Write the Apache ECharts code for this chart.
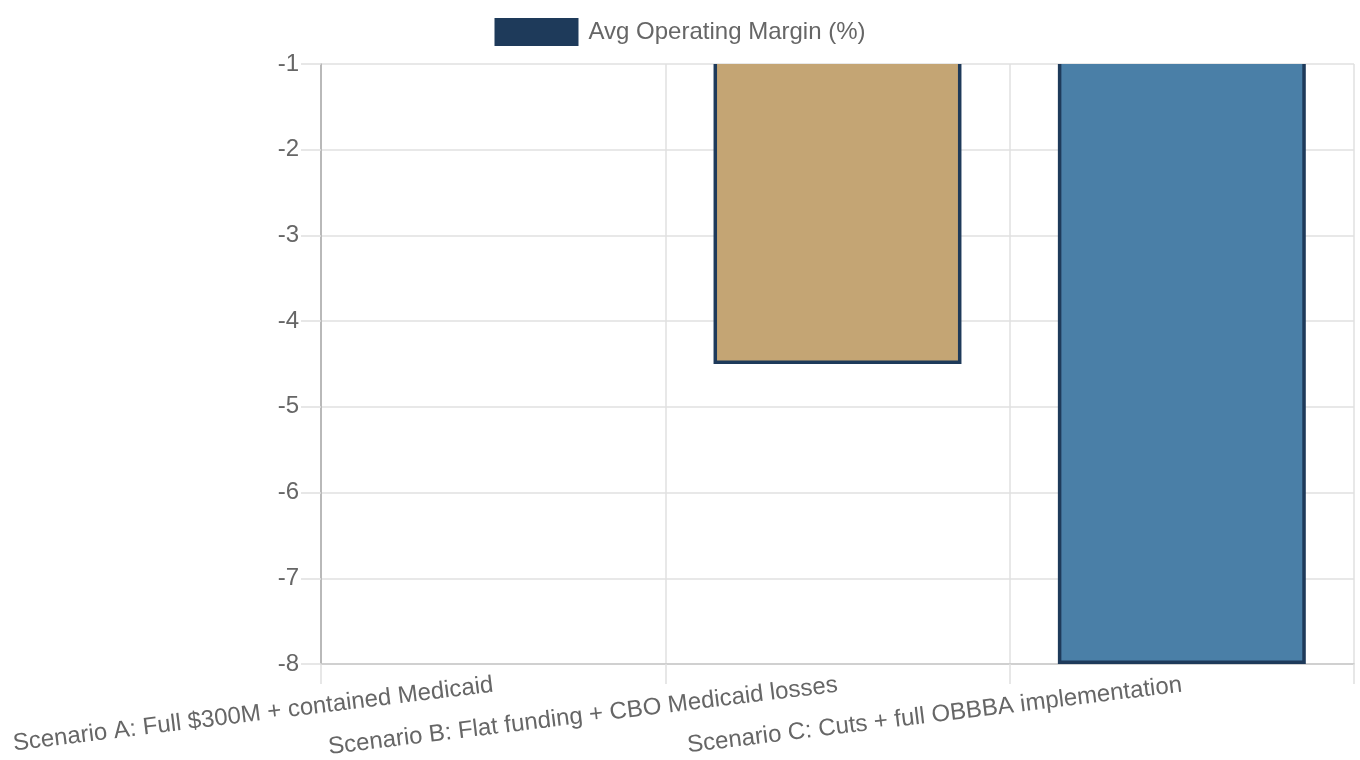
<!DOCTYPE html>
<html>
<head>
<meta charset="utf-8">
<script src="https://cdn.jsdelivr.net/npm/echarts@6/dist/echarts.min.js"></script>
<style>html,body{margin:0;padding:0;background:#fff}#c{width:1360px;height:760px}</style>
</head>
<body>
<div id="c"></div>
<script>
const categories = [
  'Scenario A: Full $300M + contained Medicaid',
  'Scenario B: Flat funding + CBO Medicaid losses',
  'Scenario C: Cuts + full OBBBA implementation'
];
const marginValues = [-1, -4.5, -8];
const barColors = ['#1e3a5a', '#c4a574', '#4a7fa7'];
const seriesName = 'Avg Operating Margin (%)';
const yTicks = { min: -8, max: -1, interval: 1 };

const FONT = '"Liberation Sans", Arial, Helvetica, sans-serif';
const BORDER = '#1e3a5a';
const BW = 3.5;

const chart = echarts.init(document.getElementById('c'));
chart.setOption({
  animation: false,
  textStyle: { fontFamily: FONT },
  legend: {
    top: 13, left: 'center',
    itemWidth: 84, itemHeight: 28,
    textStyle: { color: '#666', fontSize: 24, fontFamily: FONT, padding: [2, 0, 0, 5] },
    data: [{ name: seriesName, icon: 'rect', itemStyle: { color: BORDER } }]
  },
  grid: { left: 321, right: 6, top: 64, bottom: 96, containLabel: false },
  xAxis: {
    type: 'category', data: categories, boundaryGap: true,
    axisLine: { show: true, lineStyle: { color: '#c8c8c8', width: 1.5 } },
    axisTick: { show: true, length: 20, lineStyle: { color: '#e0e0e0', width: 1.5 } },
    splitLine: { show: true, lineStyle: { color: '#e0e0e0', width: 1.5 } },
    axisLabel: { rotate: 7, color: '#666', fontSize: 24, fontFamily: FONT, margin: 21, interval: 0 }
  },
  yAxis: {
    type: 'value', min: yTicks.min, max: yTicks.max, interval: yTicks.interval,
    axisLine: { show: true, lineStyle: { color: '#aaa', width: 1.5 } },
    axisTick: { show: true, length: 20, lineStyle: { color: '#e0e0e0', width: 1.5 } },
    splitLine: { show: true, lineStyle: { color: '#e0e0e0', width: 1.5 } },
    axisLabel: { color: '#666', fontSize: 24, fontFamily: FONT, margin: 22 }
  },
  series: [{
    type: 'custom',
    name: seriesName,
    itemStyle: { color: BORDER },
    encode: { x: 0, y: 1 },
    data: marginValues.map((v, i) => [i, v]),
    renderItem: function (params, api) {
      const idx = api.value(0), val = api.value(1);
      const base = api.coord([idx, 0]);
      const end = api.coord([idx, val]);
      const w = api.size([1, 0])[0] * 0.72;
      const cs = params.coordSys;
      const x0 = end[0] - w / 2;
      const top = Math.min(base[1], end[1]);
      const bot = Math.max(base[1], end[1]);
      const cy0 = cs.y, cy1 = cs.y + cs.height;
      const clip = (a, b) => [Math.max(a, cy0), Math.min(b, cy1)];
      const children = [];
      const [oy0, oy1] = clip(top, bot);
      if (oy1 - oy0 > 0) {
        children.push({ type: 'rect', shape: { x: x0, y: oy0, width: w, height: oy1 - oy0 }, style: { fill: BORDER } });
        let iy0, iy1;
        if (val < 0) { iy0 = top; iy1 = bot - BW; } else { iy0 = top + BW; iy1 = bot; }
        const [cy0b, cy1b] = clip(iy0, iy1);
        if (cy1b - cy0b > 0) {
          children.push({ type: 'rect', shape: { x: x0 + BW, y: cy0b, width: w - 2 * BW, height: cy1b - cy0b }, style: { fill: barColors[idx] } });
        }
      }
      return { type: 'group', children: children };
    }
  }]
});
</script>
</body>
</html>
